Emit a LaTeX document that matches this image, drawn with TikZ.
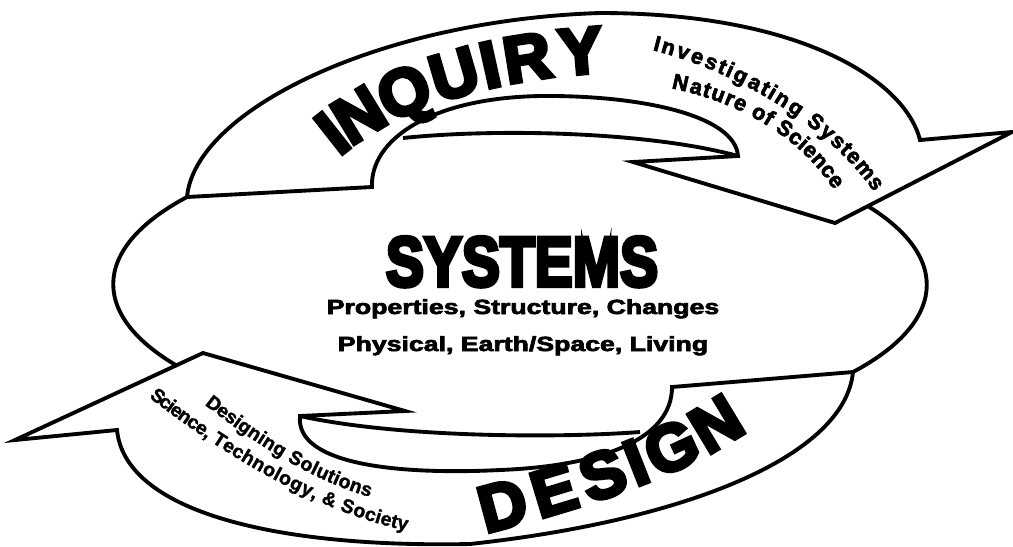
\documentclass[tikz,border=0pt]{standalone}
\usepackage{fontspec}
\newfontfamily\blackfont[FakeBold=6]{Liberation Sans Bold}
\newfontfamily\heavyfont[FakeBold=3]{Liberation Sans Bold}
\newfontfamily\boldfont[FakeBold=1.5]{Liberation Sans Bold}
\newcommand\bigtype{\blackfont\fontsize{56}{56}\selectfont}
\newcommand\tagtype{\heavyfont\fontsize{18.5}{18.5}\selectfont}
\newcommand\smalltype{\boldfont\fontsize{16.5}{16.5}\selectfont}
\newcommand\midtype{\heavyfont\fontsize{17.5}{17.5}\selectfont}

\newdimen\wordlen
\newdimen\glyphlen
% #1 macro for the spots, #2 font, #3 whole text, #4 its letters
\newcommand\spread[4]{%
  \settowidth\wordlen{#2#3}%
  \gdef#1{}%
  \foreach \ch [remember=\upto as \sofar (initially 0)] in {#4} {%
    \settowidth\glyphlen{#2\ch}%
    \pgfmathsetmacro\upto{\sofar+\the\glyphlen}%
    \pgfmathsetmacro\spot{(\sofar+0.5*\the\glyphlen)/max(\the\wordlen,0.01pt)}%
    \ifx#1\empty\xdef#1{\spot}\else\xdef#1{#1,\spot}\fi
  }%
}
% #1 font, #2 letters, #3 spots, #4 curve, #5 name prefix
\newcommand\bendtext[5]{%
  \edef\spotlist{#3}%
  \foreach \ch [count=\i] in {#2} {%
    \pgfmathsetmacro\spot{{\spotlist}[\i-1]}%
    \path #4 node (#5\i) [pos=\spot, sloped, anchor=base, inner sep=0pt] {#1\ch};
  }%
}

\tikzset{
  outline/.style={draw=black, line width=3.3pt, line join=miter},
  band/.style={outline, fill=white},
}

\begin{document}
\spread{\inqspots}{\bigtype}{INQUIRY}{I,N,Q,U,I,R,Y}
\spread{\desspots}{\bigtype}{DESIGN}{D,E,S,I,G,N}
\spread{\invspots}{\tagtype}{Investigating~Systems}{I,n,v,e,s,t,i,g,a,t,i,n,g,~,S,y,s,t,e,m,s}
\spread{\natspots}{\tagtype}{Nature~of~Science}{N,a,t,u,r,e,~,o,f,~,S,c,i,e,n,c,e}
\spread{\dsgspots}{\smalltype}{Designing~Solutions}{D,e,s,i,g,n,i,n,g,~,S,o,l,u,t,i,o,n,s}
\spread{\stsspots}{\smalltype}{Science,~Technology,~\&~Society}{S,c,i,e,n,c,e,{,},~,T,e,c,h,n,o,l,o,g,y,{,},~,\&,~,S,o,c,i,e,t,y}%
\begin{tikzpicture}[x=0.03cm, y=-0.03cm]
\useasboundingbox[fill=white] (0,0) rectangle (1013,546);

% feet of the two bands on the ellipse
\coordinate (inqfoot) at (187,197);
\coordinate (desfoot) at (853,372);

% left and right sides of the ellipse
\draw[outline] (inqfoot) arc[start angle=-145, end angle=-215, x radius=408, y radius=152];
\draw[outline] (desfoot) arc[start angle=35, end angle=-35, x radius=408, y radius=152];

% upper band with its head on the right
\draw[band] (inqfoot) .. controls (195,110) and (380,20) .. (600,13)
  .. controls (800,13) and (905,80) .. (920,140)
  -- (1012,132) -- (835,223) -- (633,162) -- (738,156)
  .. controls (735,115) and (640,95) .. (540,96)
  .. controls (430,98) and (370,140) .. (372,187) -- cycle;
\draw[outline] (403,138) .. controls (500,128) and (650,132) .. (738,156);

% lower band with its head on the left
\draw[band] (desfoot) .. controls (845,455) and (690,520) .. (470,544)
  .. controls (270,548) and (125,510) .. (117,430)
  -- (15,440) -- (203,353) -- (405,411) -- (300,416)
  .. controls (295,465) and (400,475) .. (500,470)
  .. controls (600,466) and (672,440) .. (672,387) -- cycle;
\draw[outline] (300,416) .. controls (400,438) and (560,438) .. (640,432);

% words along the bands
\bendtext{\bigtype}{I,N,Q,U,I,R,Y}{\inqspots}
  {(340,156) .. controls (400,105) and (500,78) .. (605,72)}{inq}
\bendtext{\tagtype}{I,n,v,e,s,t,i,g,a,t,i,n,g,~,S,y,s,t,e,m,s}{\invspots}
  {(652,50) .. controls (740,72) and (830,128) .. (874,192)}{inv}
\bendtext{\tagtype}{N,a,t,u,r,e,~,o,f,~,S,c,i,e,n,c,e}{\natspots}
  {(670,88) .. controls (740,102) and (800,137) .. (834,190)}{nat}
\bendtext{\smalltype}{D,e,s,i,g,n,i,n,g,~,S,o,l,u,t,i,o,n,s}{\dsgspots}
  {(205,405) .. controls (250,440) and (310,480) .. (370,497)}{dsg}
\bendtext{\smalltype}{S,c,i,e,n,c,e,{,},~,T,e,c,h,n,o,l,o,g,y,{,},~,\&,~,S,o,c,i,e,t,y}{\stsspots}
  {(150,398) .. controls (210,445) and (310,510) .. (404,530)}{sts}
\bendtext{\bigtype}{D,E,S,I,G,N}{\desspots}
  {(482,534) .. controls (575,510) and (680,478) .. (748,430)}{des}

% centre
\node (systems) [xscale=0.81, anchor=base] at (522,286) {\blackfont\fontsize{60}{60}\selectfont SYSTEMS};
\node (traits) [xscale=1.3, anchor=base] at (523,314) {\midtype Properties, Structure, Changes};
\node (realms) [xscale=1.3, anchor=base] at (523,351) {\midtype Physical, Earth/Space, Living};
\end{tikzpicture}
\end{document}
